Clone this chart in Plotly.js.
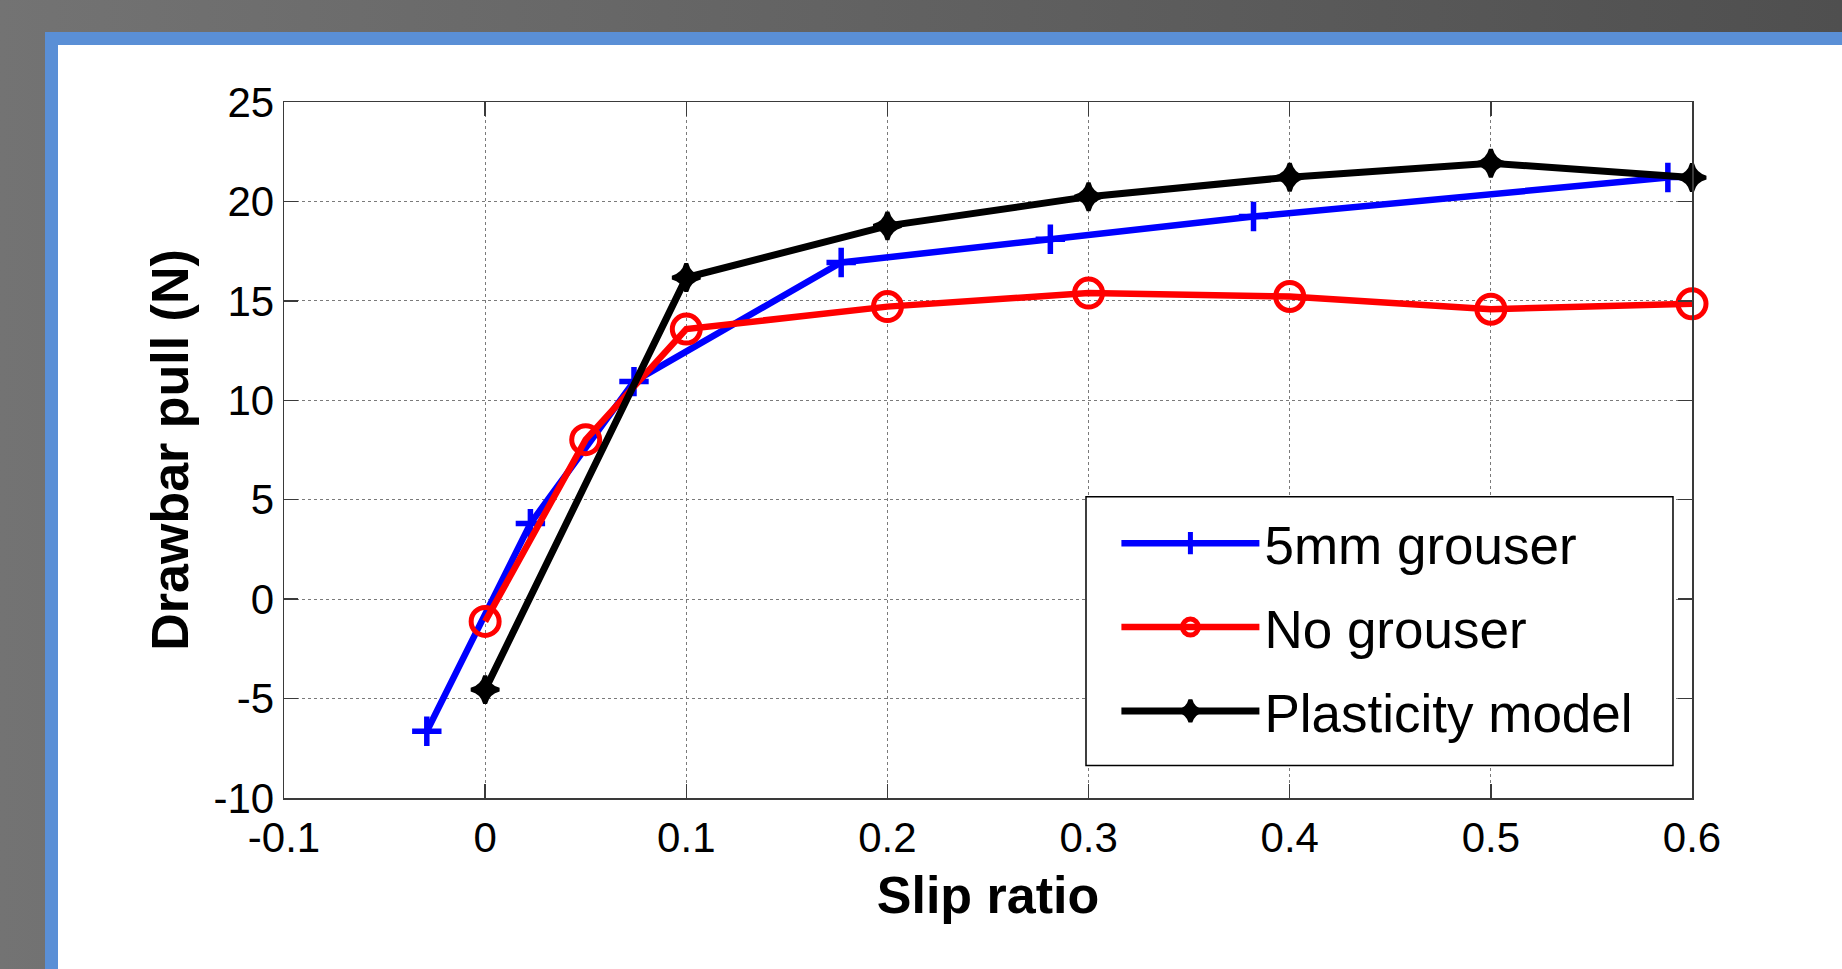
<!DOCTYPE html>
<html>
<head>
<meta charset="utf-8">
<script src="https://cdn.plot.ly/plotly-3.0.1.min.js"></script>
<style>
  html, body { margin: 0; padding: 0; }
  body { width: 1842px; height: 969px; overflow: hidden; position: relative;
         background: linear-gradient(to right, #737373, #4f4f4f); }
  #frame { position: absolute; left: 45px; top: 32px; right: 0; bottom: 0; background: #5a8fd6; }
  #panel { position: absolute; left: 58px; top: 45px; right: 0; bottom: 0; background: #ffffff; }
  #chart { position: absolute; left: 0; top: 0; width: 1842px; height: 969px; }
</style>
</head>
<body>
<div id="frame"></div>
<div id="panel"></div>
<div id="chart"></div>
<script>
// ---- data ----
const seriesNames = ["5mm grouser", "No grouser", "Plasticity model"];

const slip5mm  = [-0.029, 0.0225, 0.074, 0.177, 0.281, 0.382, 0.588];
const pull5mm  = [-6.64, 3.80, 10.94, 16.93, 18.10, 19.24, 21.20];

const slipNone = [0, 0.05, 0.1, 0.2, 0.3, 0.4, 0.5, 0.6];
const pullNone = [-1.12, 8.02, 13.58, 14.71, 15.39, 15.22, 14.58, 14.85];

const slipModel = [0, 0.1, 0.2, 0.3, 0.4, 0.5, 0.6];
const pullModel = [-4.55, 16.17, 18.77, 20.24, 21.22, 21.92, 21.20];

const xTickVals = [-0.1, 0, 0.1, 0.2, 0.3, 0.4, 0.5, 0.6];
const xTickText = ["-0.1", "0", "0.1", "0.2", "0.3", "0.4", "0.5", "0.6"];
const yTickVals = [-10, -5, 0, 5, 10, 15, 20, 25];
const yTickText = ["-10", "-5", "0", "5", "10", "15", "20", "25"];

const FONT = "Liberation Sans, Arial, Helvetica, sans-serif";

const traces = [
  { x: slip5mm, y: pull5mm, name: seriesNames[0], type: "scatter", mode: "lines+markers",
    cliponaxis: false, legendgroup: "a",
    line: { color: "#0000ff", width: 6.5 },
    marker: { symbol: "cross-thin", size: 21, color: "#0000ff", line: { color: "#0000ff", width: 5.5 } } },
  { x: slipNone, y: pullNone, name: seriesNames[1], type: "scatter", mode: "lines+markers",
    cliponaxis: false, legendgroup: "b",
    line: { color: "#ff0000", width: 6.5 },
    marker: { symbol: "circle-open", size: 28, color: "#ff0000", line: { color: "#ff0000", width: 5 } } },
  { x: slipModel, y: pullModel, name: seriesNames[2], type: "scatter", mode: "lines+markers",
    cliponaxis: false, legendgroup: "c",
    line: { color: "#000000", width: 7 },
    marker: { symbol: "star-diamond", size: 20, color: "#000000", line: { color: "#000000", width: 4 } } }
];

const axisCommon = {
  showgrid: true, gridcolor: "#7a7a7a", griddash: "dot", gridwidth: 1,
  showline: true, linecolor: "#3a3a3a", linewidth: 1.5, mirror: "ticks",
  ticks: "inside", ticklen: 14, tickwidth: 1.5, tickcolor: "#3a3a3a",
  zeroline: false, automargin: false,
  tickfont: { family: FONT, size: 42, color: "#000000" }
};

const layout = {
  width: 1842, height: 969,
  margin: { l: 284, r: 150, t: 102, b: 171, pad: 0 },
  paper_bgcolor: "rgba(0,0,0,0)", plot_bgcolor: "#ffffff",
  font: { family: FONT, color: "#000000" },
  showlegend: true,
  xaxis: Object.assign({}, axisCommon, {
    range: [-0.1, 0.6], tickmode: "array", tickvals: xTickVals, ticktext: xTickText,
    ticklabelstandoff: 2,
    title: { text: "Slip ratio", standoff: 16, font: { family: FONT, size: 52, weight: "bold", color: "#000000" } }
  }),
  yaxis: Object.assign({}, axisCommon, {
    range: [-10, 25], tickmode: "array", tickvals: yTickVals, ticktext: yTickText,
    ticklabelstandoff: 0,
    title: { text: "Drawbar pull (N)", standoff: 8, font: { family: FONT, size: 52, weight: "bold", color: "#000000" } }
  }),
  // legend frame (box) drawn as a shape; legend entries placed inside it
  shapes: [{
    type: "rect", xref: "paper", yref: "paper", layer: "above",
    x0: 0.5696, x1: 0.9865, y0: 0.0467, y1: 0.4329,
    fillcolor: "#ffffff", line: { color: "#000000", width: 1.5 }
  }],
  legend: {
    x: 0.5912, y: 0.4250, xanchor: "left", yanchor: "top",
    bgcolor: "rgba(0,0,0,0)", borderwidth: 0,
    font: { family: FONT, size: 53, color: "#000000" },
    traceorder: "grouped", tracegroupgap: 12, itemwidth: 138
  }
};

Plotly.newPlot("chart", traces, layout, { displayModeBar: false, staticPlot: true });
</script>
</body>
</html>
